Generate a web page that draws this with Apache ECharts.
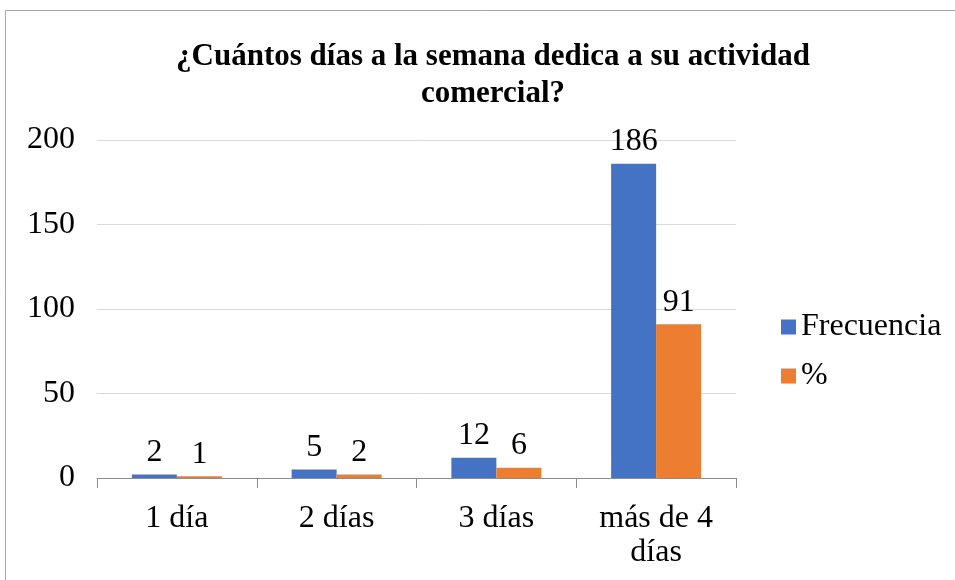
<!DOCTYPE html>
<html>
<head>
<meta charset="utf-8">
<script src="https://cdn.jsdelivr.net/npm/echarts@6/dist/echarts.min.js"></script>
<style>
  html, body { margin: 0; padding: 0; background: #fff; }
  #main { width: 955px; height: 580px; }
</style>
</head>
<body>
<div id="main"></div>
<script>
// 数据
var categories = ['1 día', '2 días', '3 días', 'más de 4\ndías'];
var frecuencia = [2, 5, 12, 186];
var porcentaje = [1, 2, 6, 91];
var yTicks = [0, 50, 100, 150, 200];

var serif = '"Liberation Serif", "Times New Roman", serif';
var chart = echarts.init(document.getElementById('main'));

var option = {
    backgroundColor: '#fff',
    animation: false,
    // 外框
    graphic: [{
        type: 'rect',
        shape: { x: 5.5, y: 10.5, width: 960, height: 600 },
        style: { fill: 'none', stroke: '#a6a6a6', lineWidth: 1 }
    }],
    title: {
        text: '¿Cuántos días a la semana dedica a su actividad\ncomercial?',
        left: 488,
        top: 33,
        textAlign: 'center',
        textStyle: {
            fontFamily: serif,
            fontWeight: 'bold',
            fontSize: 31,
            lineHeight: 37,
            color: '#000'
        }
    },
    legend: {
        orient: 'vertical',
        left: 776,
        top: 306,
        itemGap: 17,
        itemWidth: 15,
        itemHeight: 15,
        icon: 'rect',
        textStyle: { fontFamily: serif, fontSize: 32, color: '#000' },
        data: ['Frecuencia', '%']
    },
    grid: { left: 97, right: 219, top: 140, bottom: 102, containLabel: false },
    xAxis: {
        type: 'category',
        data: categories,
        axisLine: { show: true, lineStyle: { color: '#8c8c8c' } },
        axisTick: { show: true, length: 10, lineStyle: { color: '#8c8c8c' } },
        axisLabel: {
            fontFamily: serif, fontSize: 32, color: '#000',
            margin: 24, lineHeight: 34
        }
    },
    yAxis: {
        type: 'value',
        min: yTicks[0],
        max: yTicks[yTicks.length - 1],
        interval: 50,
        axisLine: { show: false },
        axisTick: { show: false },
        splitLine: { lineStyle: { color: '#d9d9d9' } },
        axisLabel: { fontFamily: serif, fontSize: 32, color: '#000', margin: 22 }
    },
    series: [{
        name: 'Frecuencia',
        type: 'bar',
        data: frecuencia,
        barWidth: 45,
        barGap: '0%',
        itemStyle: { color: '#4472c4' },
        label: {
            show: true, position: 'top', distance: 6,
            fontFamily: serif, fontSize: 32, color: '#000'
        }
    }, {
        name: '%',
        type: 'bar',
        data: porcentaje,
        barWidth: 45,
        barGap: '0%',
        itemStyle: { color: '#ed7d31' },
        label: {
            show: true, position: 'top', distance: 6,
            fontFamily: serif, fontSize: 32, color: '#000'
        }
    }]
};

chart.setOption(option);
</script>
</body>
</html>
